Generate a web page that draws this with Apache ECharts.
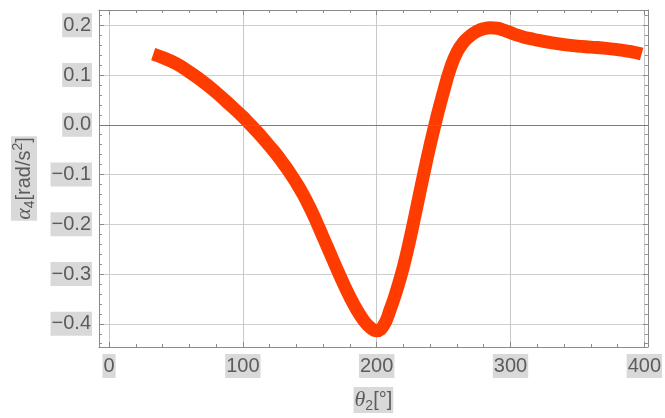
<!DOCTYPE html>
<html>
<head>
<meta charset="utf-8">
<script src="https://cdn.jsdelivr.net/npm/echarts@6/dist/echarts.min.js"></script>
<style>html,body{margin:0;padding:0;background:#fff}#c{width:665px;height:418px}</style>
</head>
<body>
<div id="c"></div>
<script>
const theta = [33, 40, 50, 60, 70, 80, 90, 100, 105, 110, 115, 120, 125, 130, 135, 140, 145, 150, 155, 160, 165, 170, 175, 180, 185, 190, 195, 200, 205, 210, 215, 220, 225, 230, 235, 240, 245, 250, 255, 260, 265, 270, 275, 280, 285, 290, 295, 300, 305, 310, 315, 320, 330, 340, 350, 360, 370, 380, 390, 398];
const alpha4 = [0.142, 0.135, 0.123, 0.106, 0.087, 0.065, 0.041, 0.016, 0.002, -0.012, -0.027, -0.043, -0.059, -0.077, -0.096, -0.117, -0.140, -0.166, -0.195, -0.226, -0.257, -0.288, -0.318, -0.346, -0.371, -0.392, -0.407, -0.414, -0.404, -0.372, -0.332, -0.285, -0.228, -0.165, -0.101, -0.040, 0.016, 0.067, 0.113, 0.146, 0.166, 0.179, 0.188, 0.193, 0.195, 0.194, 0.190, 0.185, 0.180, 0.176, 0.173, 0.170, 0.165, 0.161, 0.158, 0.156, 0.154, 0.151, 0.147, 0.142];
const xMajorTicks = [0, 100, 200, 300, 400];
const xMinorTicks = [20, 40, 60, 80, 120, 140, 160, 180, 220, 240, 260, 280, 320, 340, 360, 380];
const yMajorTicks = [-0.4, -0.3, -0.2, -0.1, 0, 0.1, 0.2];
const yMinorTicks = [-0.44, -0.42, -0.38, -0.36, -0.34, -0.32, -0.28, -0.26, -0.24, -0.22, -0.18, -0.16, -0.14, -0.12, -0.08, -0.06, -0.04, -0.02, 0.02, 0.04, 0.06, 0.08, 0.12, 0.14, 0.16, 0.18, 0.22];

const X_MIN = -7.5, X_MAX = 402.6, Y_MIN = -0.4466, Y_MAX = 0.2306;
const FRAME = '#8a8a8a';
const labelStyle = {
  fontFamily: 'Liberation Sans', fontSize: 20, color: '#5c5c5c',
  backgroundColor: '#d9d9d9', padding: [2, 1, 1, 1], lineHeight: 21
};
const richName = {
  n: { fontFamily: 'Liberation Sans', fontSize: 20, lineHeight: 26, color: '#5c5c5c' },
  i: { fontFamily: 'Liberation Serif', fontStyle: 'italic', fontSize: 22, lineHeight: 26, color: '#5c5c5c' },
  s: { fontFamily: 'Liberation Sans', fontSize: 14, lineHeight: 14, verticalAlign: 'bottom', color: '#5c5c5c' },
  p: { fontFamily: 'Liberation Sans', fontSize: 14, lineHeight: 14, verticalAlign: 'top', color: '#5c5c5c' }
};
function fmtY(v) { return (v < 0 ? '\u2212' : '') + Math.abs(v).toFixed(1); }

function xAx(pos, ticks, len, major) {
  return {
    type: 'value', position: pos, min: X_MIN, max: X_MAX,
    axisLine: { show: major, onZero: false, lineStyle: { color: FRAME, width: 1 } },
    axisTick: { show: true, inside: true, length: len, customValues: ticks, lineStyle: { color: FRAME } },
    axisLabel: { show: false },
    splitLine: { show: false }
  };
}
function yAx(pos, ticks, len, major) {
  return {
    type: 'value', position: pos, min: Y_MIN, max: Y_MAX,
    axisLine: { show: major, onZero: false, lineStyle: { color: FRAME, width: 1 } },
    axisTick: { show: true, inside: true, length: len, customValues: ticks, lineStyle: { color: FRAME } },
    axisLabel: { show: false },
    splitLine: { show: false }
  };
}

const xMain = xAx('bottom', xMajorTicks, 5, true);
xMain.axisLabel = Object.assign({ show: true, margin: 7, customValues: xMajorTicks, formatter: v => String(v) }, labelStyle);
xMain.splitLine = { show: true, lineStyle: { color: '#c8c8c8', width: 1 } };
xMain.name = '{i|θ}{s|2}{n|[°]}';
xMain.nameLocation = 'middle';
xMain.nameGap = 40;
xMain.nameTextStyle = { rich: richName, backgroundColor: '#d9d9d9', padding: [0, 1] };

const yMain = yAx('left', yMajorTicks, 5, true);
yMain.axisLabel = Object.assign({ show: true, margin: 7, customValues: yMajorTicks, formatter: fmtY }, labelStyle);
yMain.splitLine = { show: true, lineStyle: { color: '#cfcfcf', width: 1 } };
yMain.name = '{i|α}{s|4}{n|[rad/s}{p|2}{n|]}';
yMain.nameLocation = 'middle';
yMain.nameRotate = 90;
yMain.nameGap = 62;
yMain.nameTextStyle = { rich: richName, backgroundColor: '#d9d9d9', padding: [0, 1] };

const chart = echarts.init(document.getElementById('c'), null, { renderer: 'canvas' });
chart.setOption({
  animation: false,
  backgroundColor: '#ffffff',
  grid: { left: 99, right: 16, top: 10, bottom: 69.5, containLabel: false },
  xAxis: [xMain, xAx('bottom', xMinorTicks, 3, false), xAx('top', xMajorTicks, 5, true), xAx('top', xMinorTicks, 3, false)],
  yAxis: [yMain, yAx('left', yMinorTicks, 3, false), yAx('right', yMajorTicks, 5, true), yAx('right', yMinorTicks, 3, false)],
  series: [{
    type: 'line', xAxisIndex: 0, yAxisIndex: 0,
    data: theta.map((t, k) => [t, alpha4[k]]),
    smooth: 0.5, showSymbol: false, clip: false,
    lineStyle: { color: '#ff3c00', width: 13, cap: 'butt', join: 'round' },
    markLine: {
      silent: true, symbol: 'none', label: { show: false },
      lineStyle: { color: '#7a7a7a', type: 'solid', width: 1 },
      data: [{ yAxis: 0 }]
    },
    z: 3
  }]
});
</script>
</body>
</html>
